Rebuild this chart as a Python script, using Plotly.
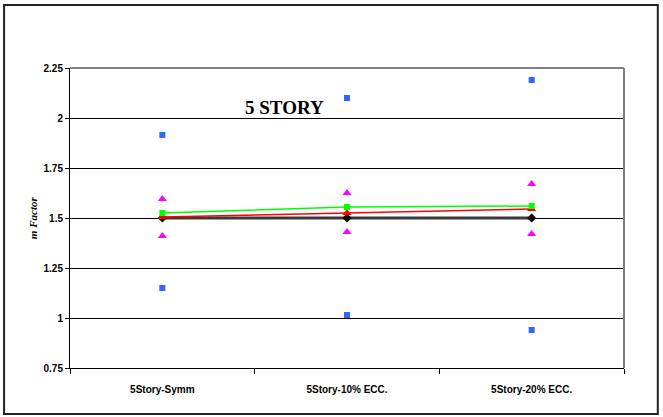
import plotly.graph_objects as go

categories = ["5Story-Symm", "5Story-10% ECC.", "5Story-20% ECC."]
blue_upper = [1.915, 2.10, 2.19]
blue_lower = [1.15, 1.015, 0.94]
magenta_upper = [1.595, 1.625, 1.67]
magenta_lower = [1.41, 1.43, 1.42]
green_line = [1.525, 1.555, 1.56]
red_line = [1.505, 1.525, 1.545]
black_line = [1.5, 1.5, 1.5]
y_ticks = [0.75, 1, 1.25, 1.5, 1.75, 2, 2.25]
y_tick_text = ["0.75", "1", "1.25", "1.5", "1.75", "2", "2.25"]

fig = go.Figure()
fig.add_trace(go.Scatter(x=categories, y=black_line, mode="lines+markers",
                         line=dict(color="#3a3a3a", width=3),
                         marker=dict(symbol="diamond", color="black", size=7)))
fig.add_trace(go.Scatter(x=categories, y=red_line, mode="lines+markers",
                         line=dict(color="#ff0000", width=1.5),
                         marker=dict(symbol="triangle-up", color="#ff0000", size=8)))
fig.add_trace(go.Scatter(x=categories, y=green_line, mode="lines+markers",
                         line=dict(color="#00ff00", width=1.5),
                         marker=dict(symbol="square", color="#00ff00", size=6)))
for vals in (magenta_upper, magenta_lower):
    fig.add_trace(go.Scatter(x=categories, y=vals, mode="markers",
                             marker=dict(symbol="triangle-up", color="#ff00ff", size=8)))
for vals in (blue_upper, blue_lower):
    fig.add_trace(go.Scatter(x=categories, y=vals, mode="markers",
                             marker=dict(symbol="square", color="#3366ff", size=6)))

tick_font = dict(family="Liberation Sans, Arial", size=10, color="black", weight="bold")

fig.update_layout(
    width=663, height=417,
    margin=dict(l=70, r=39, t=68, b=49),
    paper_bgcolor="white", plot_bgcolor="white",
    showlegend=False,
    font=dict(family="Liberation Sans, Arial", color="black"),
    xaxis=dict(type="category", range=[-0.5, 2.5], showgrid=False,
               showline=True, linecolor="black", linewidth=1,
               ticks="outside", tickson="boundaries", ticklen=5, tickcolor="black",
               tickfont=tick_font, ticklabelstandoff=12),
    yaxis=dict(range=[0.75, 2.25], tickvals=y_ticks, ticktext=y_tick_text,
               showgrid=True, gridcolor="black", gridwidth=1,
               showline=True, linecolor="black", linewidth=1,
               ticks="outside", ticklen=4, tickcolor="black",
               tickfont=tick_font, zeroline=False),
    shapes=[
        dict(type="line", xref="paper", yref="paper", x0=0, x1=1, y0=1, y1=1,
             line=dict(color="#808080", width=2), layer="above"),
        dict(type="line", xref="paper", yref="paper", x0=1, x1=1, y0=0, y1=1,
             line=dict(color="#808080", width=2), layer="above"),
        dict(type="rect", xref="paper", yref="paper",
             x0=-0.119, x1=1.061, y0=-0.153, y1=1.21,
             line=dict(color="#222222", width=2)),
    ],
    annotations=[
        dict(text="<b>5 STORY</b>", xref="paper", yref="paper", x=0.388, y=0.91,
             showarrow=False, font=dict(family="Liberation Serif, Times New Roman", size=19, color="black")),
        dict(text="<b><i>m Factor</i></b>", xref="paper", yref="paper", x=-0.081, y=0.5,
             textangle=-90, showarrow=False,
             font=dict(family="Liberation Serif, Times New Roman", size=11, color="black")),
    ],
)

fig.write_html("out.html", config={"displayModeBar": False},
               post_script="document.body.style.margin='0';document.body.style.padding='0';")
